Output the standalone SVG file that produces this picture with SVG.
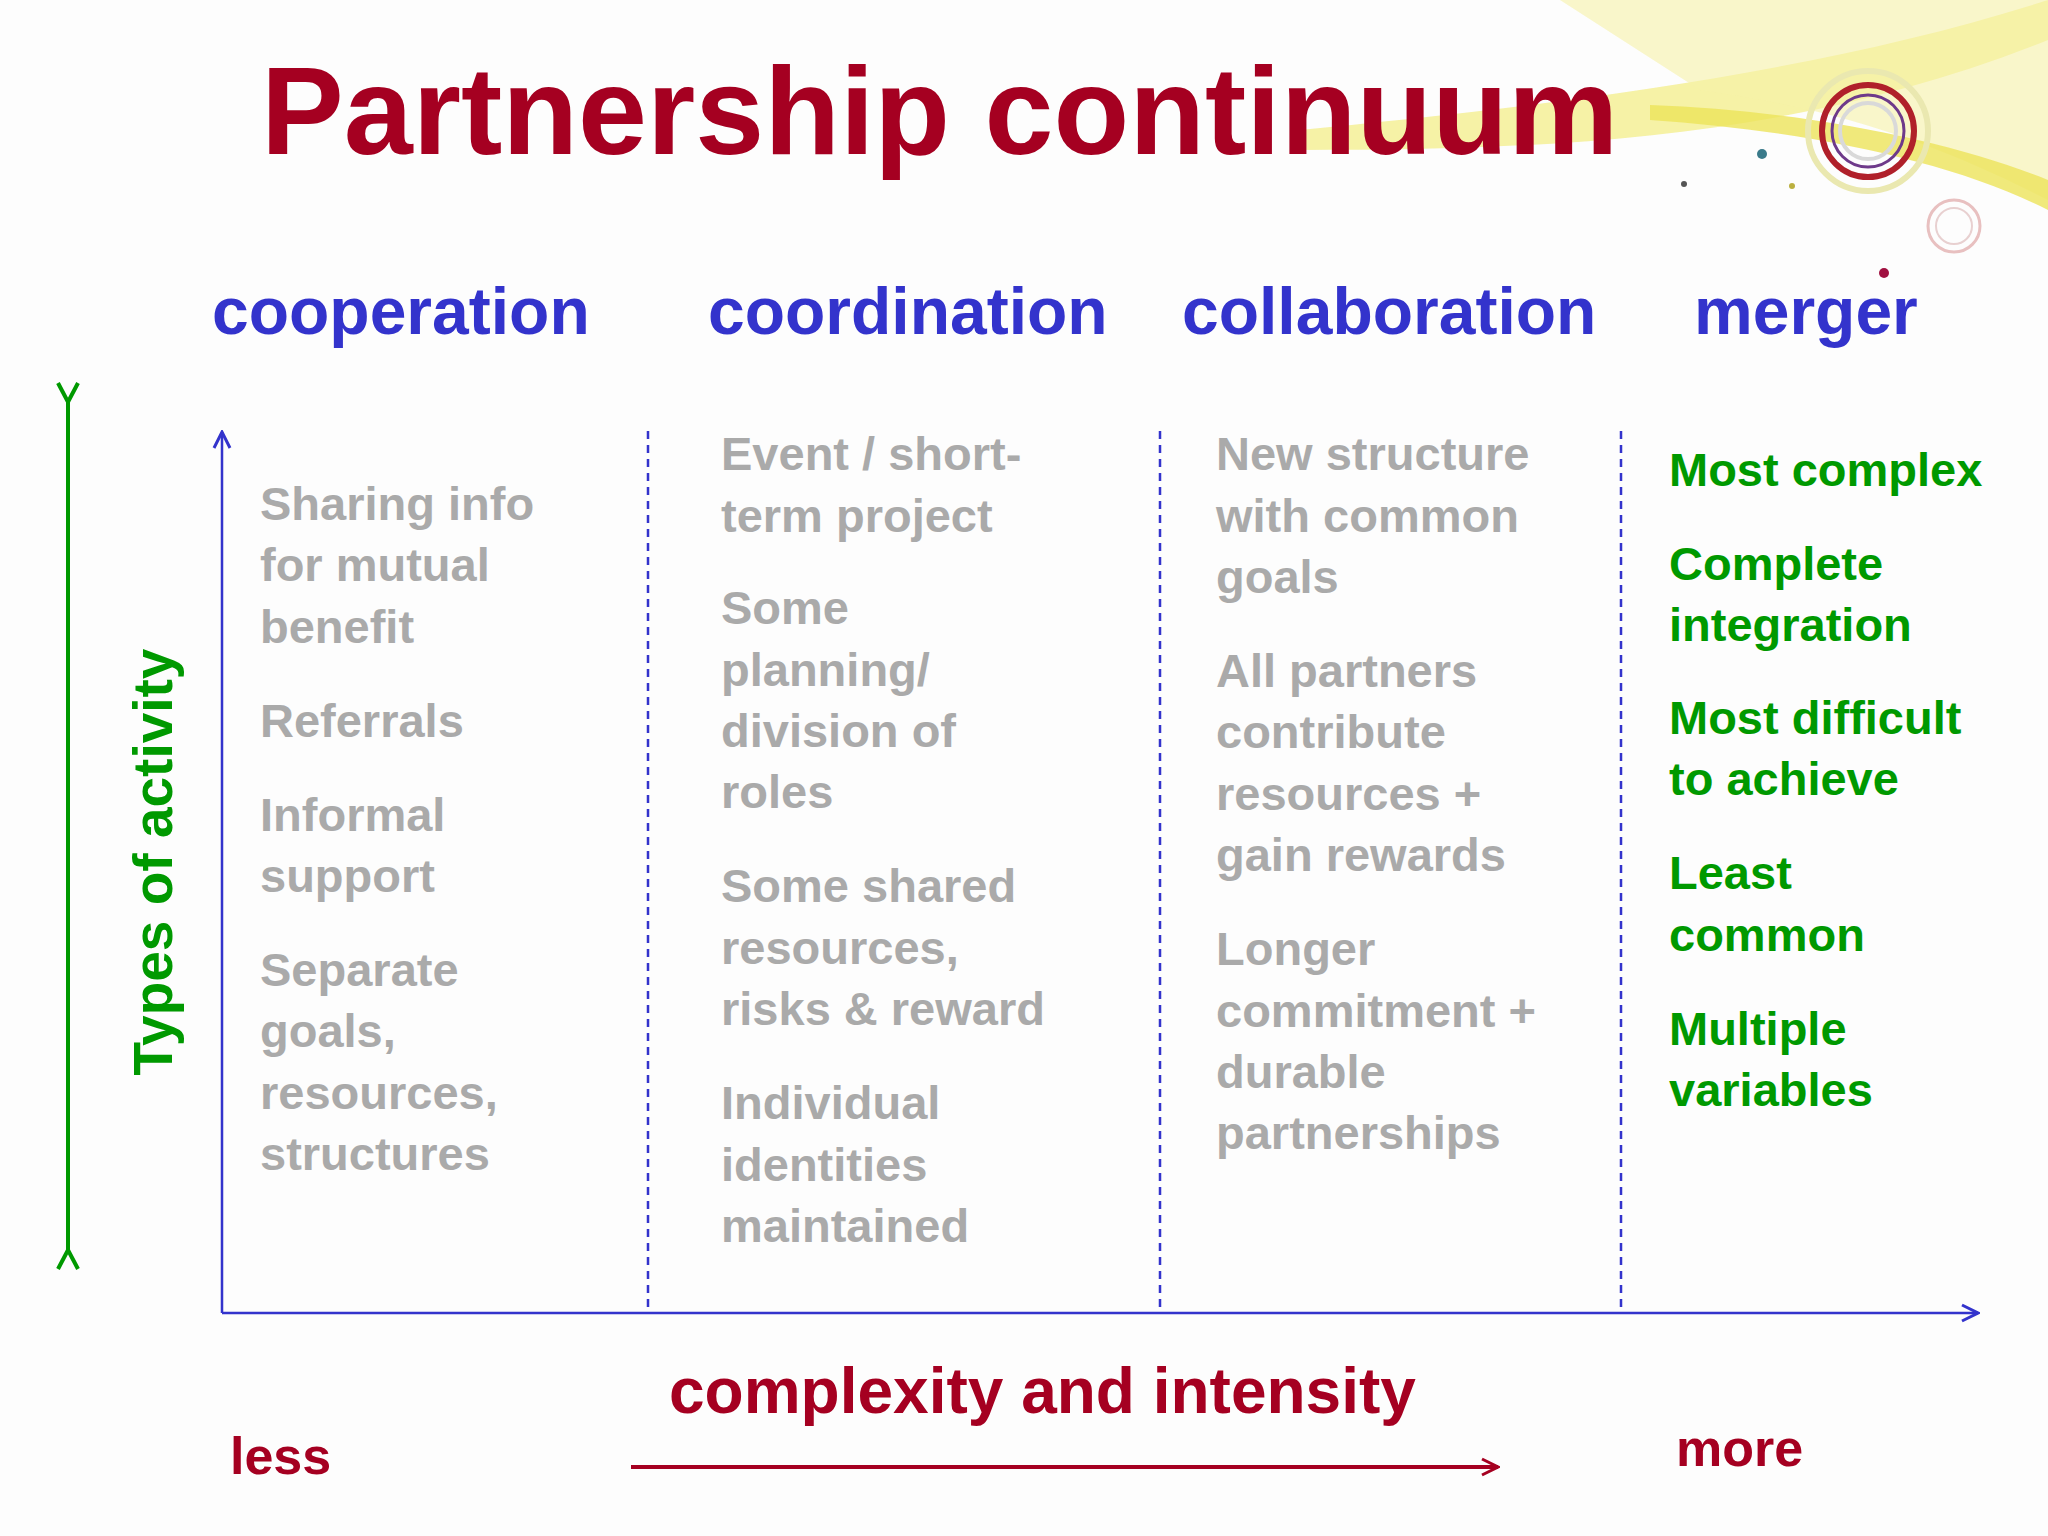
<svg xmlns="http://www.w3.org/2000/svg" width="2048" height="1536" viewBox="0 0 2048 1536">
<defs>
<marker id="open" markerWidth="20" markerHeight="20" refX="18" refY="10" orient="auto" markerUnits="userSpaceOnUse"><path d="M2,2 L18,10 L2,18" fill="none" stroke="context-stroke" stroke-width="3"/></marker>
<marker id="openB" markerWidth="24" markerHeight="24" refX="3" refY="12" orient="auto-start-reverse" markerUnits="userSpaceOnUse"><path d="M22,2 L3,12 L22,22" fill="none" stroke="#009900" stroke-width="4"/></marker>
</defs>
<style>
text{font-family:"Liberation Sans",Arial,sans-serif;font-weight:bold}
.h{fill:#3333cc;font-size:66px}
.g{fill:#aaaaaa;font-size:47px}
.gr{fill:#009900;font-size:47px}
.r{fill:#a50021}
.dash{stroke:#3333cc;stroke-width:2.5;stroke-dasharray:8,6}
</style>
<rect width="2048" height="1536" fill="#fdfdfd"/>
<g id="decoration">
<path d="M1300,130 C1500,110 1800,80 2048,0 L2048,40 C1800,140 1550,150 1300,150 Z" fill="#f2ec80" opacity="0.7"/>
<path d="M1560,0 L2048,0 L2048,200 C1950,150 1850,110 1700,90 Z" fill="#f6f2a8" opacity="0.6"/>
<path d="M1650,120 C1800,130 1950,160 2048,210 L2048,180 C1950,140 1800,110 1650,105 Z" fill="#ece45a" opacity="0.8"/>
<circle cx="1868" cy="131" r="60" fill="none" stroke="#eae8b0" stroke-width="6"/>
<circle cx="1868" cy="131" r="46" fill="none" stroke="#b0202a" stroke-width="6"/>
<circle cx="1868" cy="131" r="36" fill="none" stroke="#6e3a8a" stroke-width="3"/>
<circle cx="1868" cy="131" r="28" fill="none" stroke="#d9d9d9" stroke-width="4"/>
<circle cx="1954" cy="226" r="26" fill="none" stroke="#e8c0c0" stroke-width="3"/>
<circle cx="1954" cy="226" r="18" fill="none" stroke="#e8d0d0" stroke-width="2"/>
<circle cx="1762" cy="154" r="5" fill="#3a7a8a"/>
<circle cx="1684" cy="184" r="3" fill="#555"/>
<circle cx="1792" cy="186" r="3" fill="#bbb040"/>
<circle cx="1884" cy="273" r="5" fill="#a01040"/>
</g>
<text x="261" y="154" class="r" font-size="124">Partnership continuum</text>
<g id="headers">
<text x="212" y="334" class="h">cooperation</text>
<text x="708" y="334" class="h">coordination</text>
<text x="1182" y="334" class="h">collaboration</text>
<text x="1694" y="334" class="h">merger</text>
</g>
<g id="connectors" fill="none">
<line x1="68" y1="402" x2="68" y2="1250" stroke="#009900" stroke-width="4" marker-start="url(#openB)" marker-end="url(#openB)"/>
<line x1="222" y1="1313" x2="222" y2="432" stroke="#3333cc" stroke-width="2.5" marker-end="url(#open)"/>
<line x1="222" y1="1313" x2="1978" y2="1313" stroke="#3333cc" stroke-width="2.5" marker-end="url(#open)"/>
<line x1="648" y1="431" x2="648" y2="1313" class="dash"/>
<line x1="1160" y1="431" x2="1160" y2="1313" class="dash"/>
<line x1="1621" y1="431" x2="1621" y2="1313" class="dash"/>
<line x1="631" y1="1467" x2="1498" y2="1467" stroke="#a50021" stroke-width="4" marker-end="url(#open)"/>
</g>
<text transform="translate(172,862) rotate(-90)" text-anchor="middle" fill="#009900" font-size="55">Types of activity</text>
<g id="col1" class="g">
<text x="260" y="520" class="g">Sharing info</text>
<text x="260" y="581" class="g">for mutual</text>
<text x="260" y="643" class="g">benefit</text>
<text x="260" y="737" class="g">Referrals</text>
<text x="260" y="831" class="g">Informal</text>
<text x="260" y="892" class="g">support</text>
<text x="260" y="986" class="g">Separate</text>
<text x="260" y="1047" class="g">goals,</text>
<text x="260" y="1109" class="g">resources,</text>
<text x="260" y="1170" class="g">structures</text>
</g>
<g id="col2">
<text x="721" y="470" class="g">Event / short-</text>
<text x="721" y="532" class="g">term project</text>
<text x="721" y="624" class="g">Some</text>
<text x="721" y="686" class="g">planning/</text>
<text x="721" y="747" class="g">division of</text>
<text x="721" y="808" class="g">roles</text>
<text x="721" y="902" class="g">Some shared</text>
<text x="721" y="964" class="g">resources,</text>
<text x="721" y="1025" class="g">risks &amp; reward</text>
<text x="721" y="1119" class="g">Individual</text>
<text x="721" y="1181" class="g">identities</text>
<text x="721" y="1242" class="g">maintained</text>
</g>
<g id="col3">
<text x="1216" y="470" class="g">New structure</text>
<text x="1216" y="532" class="g">with common</text>
<text x="1216" y="593" class="g">goals</text>
<text x="1216" y="687" class="g">All partners</text>
<text x="1216" y="748" class="g">contribute</text>
<text x="1216" y="810" class="g">resources +</text>
<text x="1216" y="871" class="g">gain rewards</text>
<text x="1216" y="965" class="g">Longer</text>
<text x="1216" y="1027" class="g">commitment +</text>
<text x="1216" y="1088" class="g">durable</text>
<text x="1216" y="1149" class="g">partnerships</text>
</g>
<g id="col4">
<text x="1669" y="486" class="gr">Most complex</text>
<text x="1669" y="580" class="gr">Complete</text>
<text x="1669" y="641" class="gr">integration</text>
<text x="1669" y="734" class="gr">Most difficult</text>
<text x="1669" y="795" class="gr">to achieve</text>
<text x="1669" y="889" class="gr">Least</text>
<text x="1669" y="951" class="gr">common</text>
<text x="1669" y="1045" class="gr">Multiple</text>
<text x="1669" y="1106" class="gr">variables</text>
</g>
<g id="bottom">
<text x="669" y="1413" class="r" font-size="64">complexity and intensity</text>
<text x="230" y="1474" class="r" font-size="52">less</text>
<text x="1676" y="1466" class="r" font-size="52">more</text>
</g>
</svg>
